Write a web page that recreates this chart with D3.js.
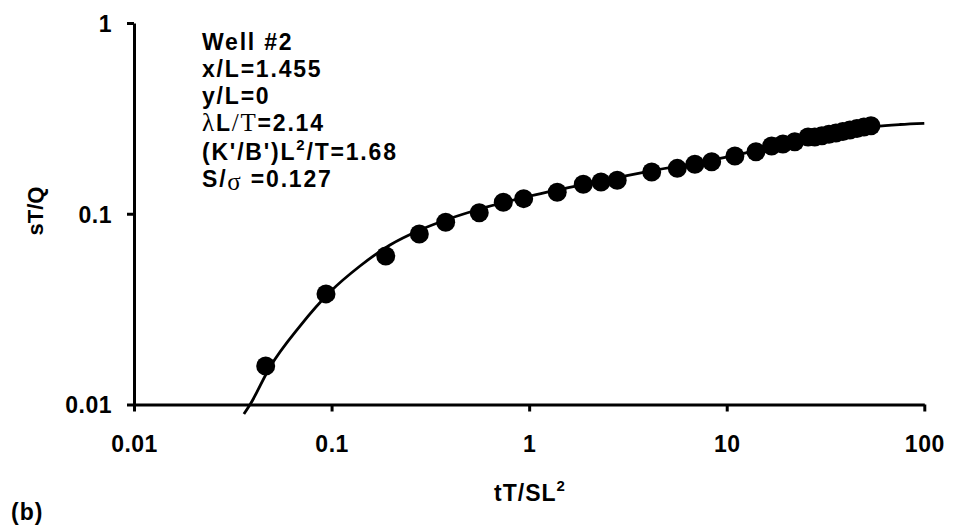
<!DOCTYPE html>
<html>
<head>
<meta charset="utf-8">
<script src="https://cdn.jsdelivr.net/npm/d3@7"></script>
<style>
  body { margin: 0; background: #fff; }
  svg text { font-family: "Liberation Sans", Arial, sans-serif; font-weight: bold; fill: #000; }
</style>
</head>
<body>
<svg id="chart" width="953" height="532"></svg>
<script>
const tData = [0.0464, 0.0937, 0.188, 0.278, 0.378, 0.559, 0.74, 0.938, 1.387, 1.879, 2.31, 2.79,
  4.17, 5.62, 6.9, 8.39, 11.0, 14.06, 16.87, 19.25, 22.1, 25.8, 27.9, 30.3, 32.9, 35.7, 38.7,
  42.0, 45.6, 49.5, 53.7];
const sData = [0.0159, 0.038, 0.06, 0.0783, 0.0902, 0.1013, 0.1148, 0.12, 0.1295, 0.1427, 0.1467, 0.15,
  0.1655, 0.173, 0.1816, 0.1875, 0.2008, 0.2115, 0.2265, 0.232, 0.2385, 0.2525, 0.2525, 0.2565, 0.2609,
  0.265, 0.27, 0.2748, 0.2798, 0.285, 0.289];

// type curve
const tCurve = [0.036, 0.0387, 0.0488, 0.0692, 0.0982, 0.1393, 0.1975, 0.2804, 0.3976, 0.5639, 1.01,
  2.284, 4.088, 9.25, 18.61, 33.32, 56.29, 75.3, 100];
const sCurve = [0.00892, 0.01, 0.01573, 0.02579, 0.0389, 0.05322, 0.06859, 0.08221, 0.09443, 0.1059, 0.1239,
  0.1485, 0.1675, 0.1949, 0.2293, 0.2603, 0.2866, 0.2937, 0.2979];

const xTicks = [0.01, 0.1, 1, 10, 100];
const xTickLabels = ["0.01", "0.1", "1", "10", "100"];
const yTicks = [0.01, 0.1, 1];
const yTickLabels = ["0.01", "0.1", "1"];

const svg = d3.select("#chart");

const x = d3.scaleLog().domain([0.01, 100]).range([134, 924.3]);
const y = d3.scaleLog().domain([0.01, 1]).range([404.5, 23]);

// curve
const line = d3.line()
  .x((d) => x(d[0]))
  .y((d) => y(d[1]))
  .curve(d3.curveMonotoneX);

svg.append("path")
  .datum(tCurve.map((t, i) => [t, sCurve[i]]))
  .attr("fill", "none")
  .attr("stroke", "#000")
  .attr("stroke-width", 2.8)
  .attr("d", line);

// points
svg.append("g")
  .selectAll("circle")
  .data(tData.map((t, i) => [t, sData[i]]))
  .join("circle")
  .attr("cx", (d) => x(d[0]))
  .attr("cy", (d) => y(d[1]))
  .attr("r", 9.5)
  .attr("fill", "#000");

// axes
const xAxis = svg.append("g")
  .attr("transform", `translate(0,${y(0.01)})`)
  .call(d3.axisBottom(x)
    .tickValues(xTicks)
    .tickFormat((d, i) => xTickLabels[i])
    .tickSizeInner(7)
    .tickSizeOuter(0)
    .tickPadding(24));

const yAxis = svg.append("g")
  .attr("transform", `translate(${x(0.01)},0)`)
  .call(d3.axisLeft(y)
    .tickValues(yTicks)
    .tickFormat((d, i) => yTickLabels[i])
    .tickSizeInner(7)
    .tickSizeOuter(0)
    .tickPadding(15));

[xAxis, yAxis].forEach((g) => {
  g.select(".domain").attr("stroke", "#000").attr("stroke-width", 3);
  g.selectAll(".tick line").attr("stroke", "#000").attr("stroke-width", 3);
  g.selectAll(".tick text")
    .style("font-family", "'Liberation Sans', Arial, sans-serif")
    .style("font-weight", "bold")
    .style("font-size", "23px")
    .style("letter-spacing", "0.5px")
    .attr("fill", "#000");
});
yAxis.selectAll(".tick text").attr("dy", "0.36em");

// axis titles
const xTitle = svg.append("text")
  .attr("x", 530)
  .attr("y", 501)
  .attr("text-anchor", "middle")
  .style("font-size", "23px")
  .style("letter-spacing", "1px");
xTitle.append("tspan").text("tT/SL");
xTitle.append("tspan").attr("dy", -10).style("font-size", "15px").text("2");

svg.append("text")
  .attr("transform", "translate(43,211) rotate(-90)")
  .attr("text-anchor", "middle")
  .style("font-size", "22px")
  .text("sT/Q");

svg.append("text")
  .attr("x", 11)
  .attr("y", 520)
  .style("font-size", "23px")
  .style("letter-spacing", "1px")
  .text("(b)");

// annotation
const ax = 202, ay0 = 50, step = 27;
const ann = svg.append("g").style("font-size", "23px").style("letter-spacing", "1.8px");
ann.append("text").attr("x", ax).attr("y", ay0).text("Well #2");
ann.append("text").attr("x", ax).attr("y", ay0 + step).text("x/L=1.455");
ann.append("text").attr("x", ax).attr("y", ay0 + 2 * step).text("y/L=0");

const l4 = ann.append("text").attr("x", ax).attr("y", ay0 + 3 * step);
l4.append("tspan").style("font-family", "'Liberation Serif', serif").style("font-weight", "normal").style("font-size", "25px").text("λ");
l4.append("tspan").text("L");
l4.append("tspan").style("font-family", "'Liberation Serif', serif").style("font-weight", "normal").style("font-size", "25px").text("/T");
l4.append("tspan").text("=2.14");

const l5 = ann.append("text").attr("x", ax).attr("y", ay0 + 4 * step + 2);
l5.append("tspan").text("(K'/B')L");
l5.append("tspan").attr("dy", -10).style("font-size", "15px").text("2");
l5.append("tspan").attr("dy", 10).text("/T=1.68");

const l6 = ann.append("text").attr("x", ax).attr("y", ay0 + 5 * step + 2);
l6.append("tspan").text("S/");
l6.append("tspan").attr("dy", 3).style("font-family", "'Liberation Serif', serif").style("font-weight", "normal").style("font-size", "25px").text("σ");
l6.append("tspan").attr("dy", -3).text(" =0.127");
</script>
</body>
</html>
